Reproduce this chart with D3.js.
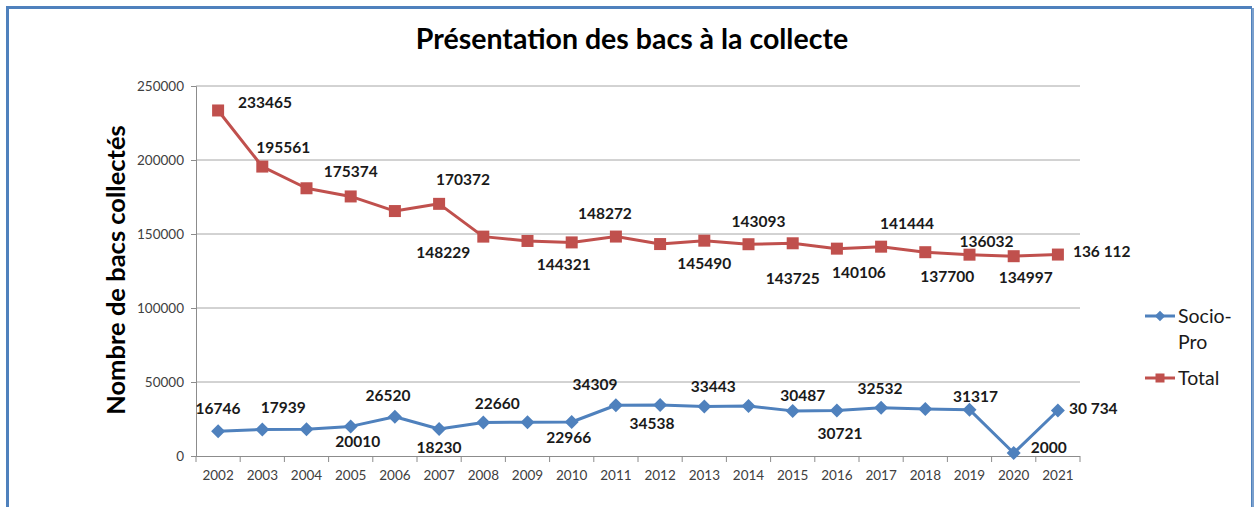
<!DOCTYPE html>
<html>
<head>
<meta charset="utf-8">
<script src="https://cdn.jsdelivr.net/npm/d3@7"></script>
<style>
  body { margin: 0; background: #fff; }
  svg text { font-family: Lato, "Open Sans", sans-serif; }
</style>
</head>
<body>
<svg id="mysvg" width="1256" height="507"></svg>
<script>
// Data
const years = ['2002','2003','2004','2005','2006','2007','2008','2009','2010','2011',
               '2012','2013','2014','2015','2016','2017','2018','2019','2020','2021'];
const socioPro = [16746, 17939, 18000, 20010, 26520, 18230, 22660, 22770, 22966, 34309,
                  34538, 33443, 33800, 30487, 30721, 32532, 31700, 31317, 2000, 30734];
const total = [233465, 195561, 180900, 175374, 165500, 170372, 148229, 145300, 144321, 148272,
               143200, 145490, 143093, 143725, 140106, 141444, 137700, 136032, 134997, 136112];
const socioLabels = ['16746','17939',null,'20010','26520','18230','22660',null,'22966','34309',
                     '34538','33443',null,'30487','30721','32532',null,'31317','2000','30 734'];
const totalLabels = ['233465','195561',null,'175374',null,'170372','148229',null,'144321','148272',
                     null,'145490','143093','143725','140106','141444','137700','136032','134997','136 112'];
const yTicks = [0, 50000, 100000, 150000, 200000, 250000];

// label placement (dx, dy from the point, as positioned in the original)
const socioOffsets = [[0,-23],[21,-22],null,[7,15],[-7,-21],[0,19],[14,-19],null,[-3,16],[-21,-21],
                      [-8,19],[9,-20],null,[10,-15],[3,23],[-1,-19],null,[6,-13],[35,-5],['L',11,-2]];
const totalOffsets = [['L',20,-8],[21,-19],null,[0,-25],null,[24,-24],[-40,16],null,[-8,22],[-11,-23],
                      null,[0,23],[10,-23],[0,35],[22,24],[26,-23],[22,24],[17,-13],[12,21],['L',15,-3]];

const svg = d3.select('#mysvg');

// frame
svg.append('rect')
  .attr('x', 7.5).attr('y', 7.5)
  .attr('width', 1245).attr('height', 520)
  .attr('fill', 'none')
  .attr('stroke', '#4F81BD')
  .attr('stroke-width', 3);
svg.append('line')
  .attr('x1', 1253).attr('x2', 1253).attr('y1', 6).attr('y2', 507)
  .attr('stroke', '#fff').attr('stroke-width', 2);
svg.append('line')
  .attr('x1', 1253).attr('x2', 1253).attr('y1', 8).attr('y2', 507)
  .attr('stroke', '#4F81BD').attr('stroke-width', 1.5);

const plotLeft = 196, plotRight = 1080, plotTop = 86, plotBottom = 456;

const xScale = d3.scaleBand()
  .domain(years)
  .range([plotLeft, plotRight]);

const yScale = d3.scaleLinear()
  .domain([0, 250000])
  .range([plotBottom, plotTop]);

const cx = d => xScale(d) + xScale.bandwidth() / 2;

// gridlines
svg.append('g')
  .selectAll('line')
  .data(yTicks.slice(1))
  .join('line')
  .attr('x1', plotLeft).attr('x2', plotRight)
  .attr('y1', d => yScale(d)).attr('y2', d => yScale(d))
  .attr('stroke', '#a6a6a6')
  .attr('stroke-width', 1);

// y axis
const yAxis = svg.append('g')
  .attr('transform', `translate(${plotLeft},0)`)
  .call(d3.axisLeft(yScale).tickValues(yTicks).tickSize(5).tickPadding(7).tickFormat(d3.format('d')));
yAxis.selectAll('line, path').attr('stroke', '#8c8c8c');
yAxis.selectAll('text').attr('font-size', 13.5).attr('fill', '#404040').style('font-family', 'Lato, sans-serif');

// x axis
const xAxis = svg.append('g')
  .attr('transform', `translate(0,${plotBottom})`)
  .call(d3.axisBottom(xScale).tickSize(0).tickPadding(14));
xAxis.select('path').attr('stroke', '#8c8c8c').attr('d', `M${plotLeft},0.5H${plotRight}`);
xAxis.selectAll('text').attr('font-size', 13.5).attr('fill', '#404040').style('font-family', 'Lato, sans-serif');
svg.append('g')
  .selectAll('line')
  .data(d3.range(years.length + 1))
  .join('line')
  .attr('x1', i => plotLeft + i * xScale.step())
  .attr('x2', i => plotLeft + i * xScale.step())
  .attr('y1', plotBottom).attr('y2', plotBottom + 6)
  .attr('stroke', '#8c8c8c');

// lines
const lineGen = d3.line()
  .x((d, i) => cx(years[i]))
  .y(d => yScale(d));

const series = [
  { name: 'Socio-Pro', values: socioPro, labels: socioLabels, offsets: socioOffsets, color: '#4F81BD', marker: 'diamond' },
  { name: 'Total', values: total, labels: totalLabels, offsets: totalOffsets, color: '#C0504D', marker: 'square' }
];

const drawMarker = (g, type, color) => {
  if (type === 'square') {
    g.append('rect').attr('x', -6).attr('y', -6).attr('width', 12).attr('height', 12)
      .attr('fill', color);
  } else {
    g.append('path').attr('d', 'M0,-7L7,0L0,7L-7,0Z').attr('fill', color);
  }
};

series.forEach(s => {
  svg.append('path')
    .datum(s.values)
    .attr('d', lineGen)
    .attr('fill', 'none')
    .attr('stroke', s.color)
    .attr('stroke-width', 3)
    .attr('stroke-linejoin', 'round');

  s.values.forEach((v, i) => {
    const g = svg.append('g').attr('transform', `translate(${cx(years[i])},${yScale(v)})`);
    drawMarker(g, s.marker, s.color);
  });

  s.values.forEach((v, i) => {
    const lab = s.labels[i];
    if (!lab) return;
    const off = s.offsets[i];
    const leftAligned = off[0] === 'L';
    const dx = leftAligned ? off[1] : off[0];
    const dy = leftAligned ? off[2] : off[1];
    svg.append('text')
      .attr('x', cx(years[i]) + dx)
      .attr('y', yScale(v) + dy)
      .attr('dy', '0.35em')
      .attr('text-anchor', leftAligned ? 'start' : 'middle')
      .attr('font-size', 15.5)
      .attr('font-weight', 'bold')
      .attr('fill', '#1a1a1a')
      .text(lab);
  });
});

// title
svg.append('text')
  .attr('x', 632).attr('y', 49)
  .attr('text-anchor', 'middle')
  .attr('font-size', 28.5)
  .attr('font-weight', 'bold')
  .attr('fill', '#000')
  .text('Présentation des bacs à la collecte');

// y title
svg.append('text')
  .attr('transform', 'translate(125,270) rotate(-90)')
  .attr('text-anchor', 'middle')
  .attr('font-size', 25.5)
  .attr('font-weight', 'bold')
  .attr('fill', '#000')
  .text('Nombre de bacs collectés');

// legend
const legend = [
  { lines: ['Socio-', 'Pro'], color: '#4F81BD', marker: 'diamond', y: 316 },
  { lines: ['Total'], color: '#C0504D', marker: 'square', y: 378 }
];
legend.forEach(l => {
  svg.append('line')
    .attr('x1', 1145).attr('x2', 1175).attr('y1', l.y).attr('y2', l.y)
    .attr('stroke', l.color).attr('stroke-width', 3);
  const g = svg.append('g').attr('transform', `translate(1160,${l.y}) scale(0.75)`);
  drawMarker(g, l.marker, l.color);
  l.lines.forEach((t, k) => {
    svg.append('text')
      .attr('x', 1178).attr('y', l.y + k * 26)
      .attr('dy', '0.35em')
      .attr('font-size', 19.5)
      .attr('fill', '#1a1a1a')
      .text(t);
  });
});
</script>
</body>
</html>
